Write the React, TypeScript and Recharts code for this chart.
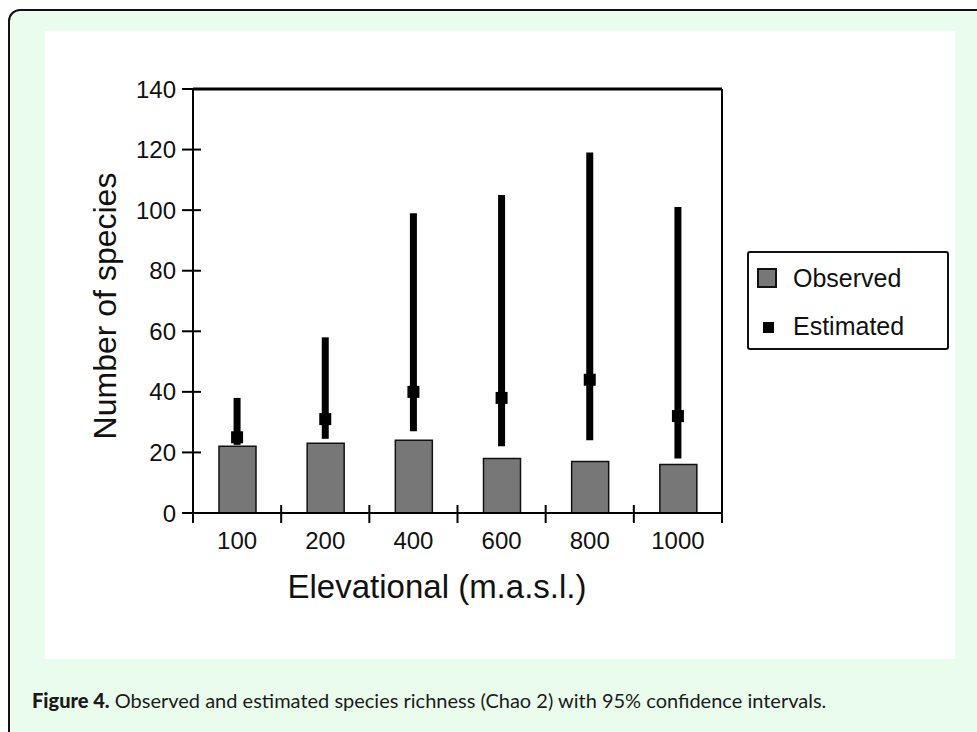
import React from 'react';
import { ComposedChart, Bar, Line, ErrorBar, XAxis, YAxis, Legend, Label } from 'recharts';

const categories = ['100', '200', '400', '600', '800', '1000'];
const observed = [22, 23, 24, 18, 17, 16];
const estimated = [25, 31, 40, 38, 44, 32];
const ciLow = [22.5, 24.5, 27, 22, 24, 18];
const ciHigh = [38, 58, 99, 105, 119, 101];
const yTicks = [0, 20, 40, 60, 80, 100, 120, 140];

const data = categories.map((c, i) => ({
  cat: c,
  observed: observed[i],
  estimated: estimated[i],
  err: [estimated[i] - ciLow[i], ciHigh[i] - estimated[i]],
}));

const FONT = '"Liberation Sans", Arial, Helvetica, sans-serif';

const YTick = (props: any) => {
  const { x, y, payload } = props;
  return (
    <g>
      <line x1={x - 11} x2={x + 8} y1={y} y2={y} stroke="#000" strokeWidth={2} />
      <text x={x - 17} y={y + 8.5} textAnchor="end" fontSize={24} fontFamily={FONT} fill="#111">
        {payload.value}
      </text>
    </g>
  );
};

const XTick = (props: any) => {
  const { x, y, payload } = props;
  const off = payload && payload.offset ? payload.offset : 44;
  const last = payload.value === categories[categories.length - 1];
  return (
    <g>
      <line x1={x - off} x2={x - off} y1={y - 8} y2={y + 10} stroke="#000" strokeWidth={2} />
      {last && <line x1={x + off} x2={x + off} y1={y - 8} y2={y + 10} stroke="#000" strokeWidth={2} />}
      <text x={x} y={y + 36} textAnchor="middle" fontSize={24} fontFamily={FONT} fill="#111">
        {payload.value}
      </text>
    </g>
  );
};

const SquareDot = (props: any) => {
  const { cx, cy } = props;
  if (cx == null || cy == null) return null;
  return <rect x={cx - 6} y={cy - 6} width={12} height={12} fill="#000" />;
};

const LegendBox = () => (
  <div
    style={{
      width: 198,
      height: 95,
      border: '2px solid #111',
      borderRadius: 3,
      background: '#fff',
      position: 'relative',
      fontFamily: FONT,
      fontSize: 25,
      color: '#111',
      textAlign: 'left',
    }}
  >
    <div style={{ position: 'absolute', left: 8, top: 15, width: 20, height: 20, background: '#777', border: '2px solid #111', boxSizing: 'border-box' }} />
    <div style={{ position: 'absolute', left: 44, top: 10, lineHeight: '30px' }}>Observed</div>
    <div style={{ position: 'absolute', left: 14, top: 69, width: 11, height: 11, background: '#000' }} />
    <div style={{ position: 'absolute', left: 44, top: 58, lineHeight: '30px' }}>Estimated</div>
  </div>
);

export default function App() {
  return (
    <div style={{ position: 'absolute', left: 0, top: 0, width: 977, height: 732, overflow: 'hidden', background: '#fff' }}>
      <div
        style={{
          position: 'absolute',
          left: 8,
          top: 9,
          width: 1100,
          height: 900,
          border: '2px solid #111',
          borderRadius: 12,
          background: '#eafdec',
        }}
      />
      <div style={{ position: 'absolute', left: 45, top: 31, width: 910, height: 628, background: '#fff' }} />
      <div
        style={{
          position: 'absolute',
          left: 32,
          top: 688,
          fontFamily: 'Lato, "Open Sans", sans-serif',
          fontSize: 20,
          color: '#1a1a1a',
          whiteSpace: 'nowrap',
          lineHeight: '24px',
        }}
      >
        <span style={{ fontWeight: 900 }}>Figure 4.</span> Observed and estimated species richness (Chao 2) with 95% confidence intervals.
      </div>
      <div style={{ position: 'absolute', left: 0, top: 0 }}>
        <ComposedChart
          width={977}
          height={732}
          data={data}
          margin={{ top: 88, right: 254, bottom: 159, left: 0 }}
          barCategoryGap={0}
        >
          <XAxis
            dataKey="cat"
            type="category"
            axisLine={{ stroke: '#000', strokeWidth: 2 }}
            tickLine={false}
            tick={<XTick />}
            tickSize={0}
            tickMargin={0}
            height={60}
            interval={0}
          >
            <Label
              content={(p: any) => {
                const vb = p.viewBox || { x: 193, y: 513, width: 529 };
                return (
                  <text x={vb.x + 244} y={vb.y + 85} textAnchor="middle" fontSize={33} fontFamily={FONT} fill="#111">
                    Elevational (m.a.s.l.)
                  </text>
                );
              }}
            />
          </XAxis>
          <XAxis xAxisId="top" orientation="top" dataKey="cat" type="category" height={1} tick={false} tickLine={false} axisLine={{ stroke: '#000', strokeWidth: 3 }} />
          <YAxis
            domain={[0, 140]}
            ticks={yTicks}
            width={193}
            axisLine={{ stroke: '#000', strokeWidth: 2 }}
            tickLine={false}
            tick={<YTick />}
            tickSize={0}
            tickMargin={0}
            interval={0}
          >
            <Label
              content={(p: any) => {
                const vb = p.viewBox || { x: 0, y: 89, width: 193, height: 424 };
                const cx = vb.x + vb.width - 77;
                const cy = vb.y + vb.height / 2 + 5;
                return (
                  <text transform={`translate(${cx},${cy}) rotate(-90)`} textAnchor="middle" fontSize={32} fontFamily={FONT} fill="#111">
                    Number of species
                  </text>
                );
              }}
            />
          </YAxis>
          <YAxis yAxisId="right" orientation="right" domain={[0, 140]} ticks={yTicks} width={1} tick={false} tickLine={false} axisLine={{ stroke: '#000', strokeWidth: 2 }} />
          <Legend
            verticalAlign="middle"
            layout="horizontal"
            align="center"
            wrapperStyle={{ position: 'absolute', left: 747, top: 251, width: 202, height: 99, margin: 0 }}
            content={() => <LegendBox />}
          />
          <Bar dataKey="observed" name="Observed" barSize={37} fill="#777" stroke="#111" strokeWidth={1.5} isAnimationActive={false} />
          <Line
            xAxisId="top"
            yAxisId="right"
            dataKey="estimated"
            name="Estimated"
            stroke="none"
            dot={<SquareDot />}
            activeDot={false}
            isAnimationActive={false}
          >
            <ErrorBar dataKey="err" width={0} stroke="#000" strokeWidth={7} direction="y" isAnimationActive={false} />
          </Line>
        </ComposedChart>
      </div>
    </div>
  );
}
